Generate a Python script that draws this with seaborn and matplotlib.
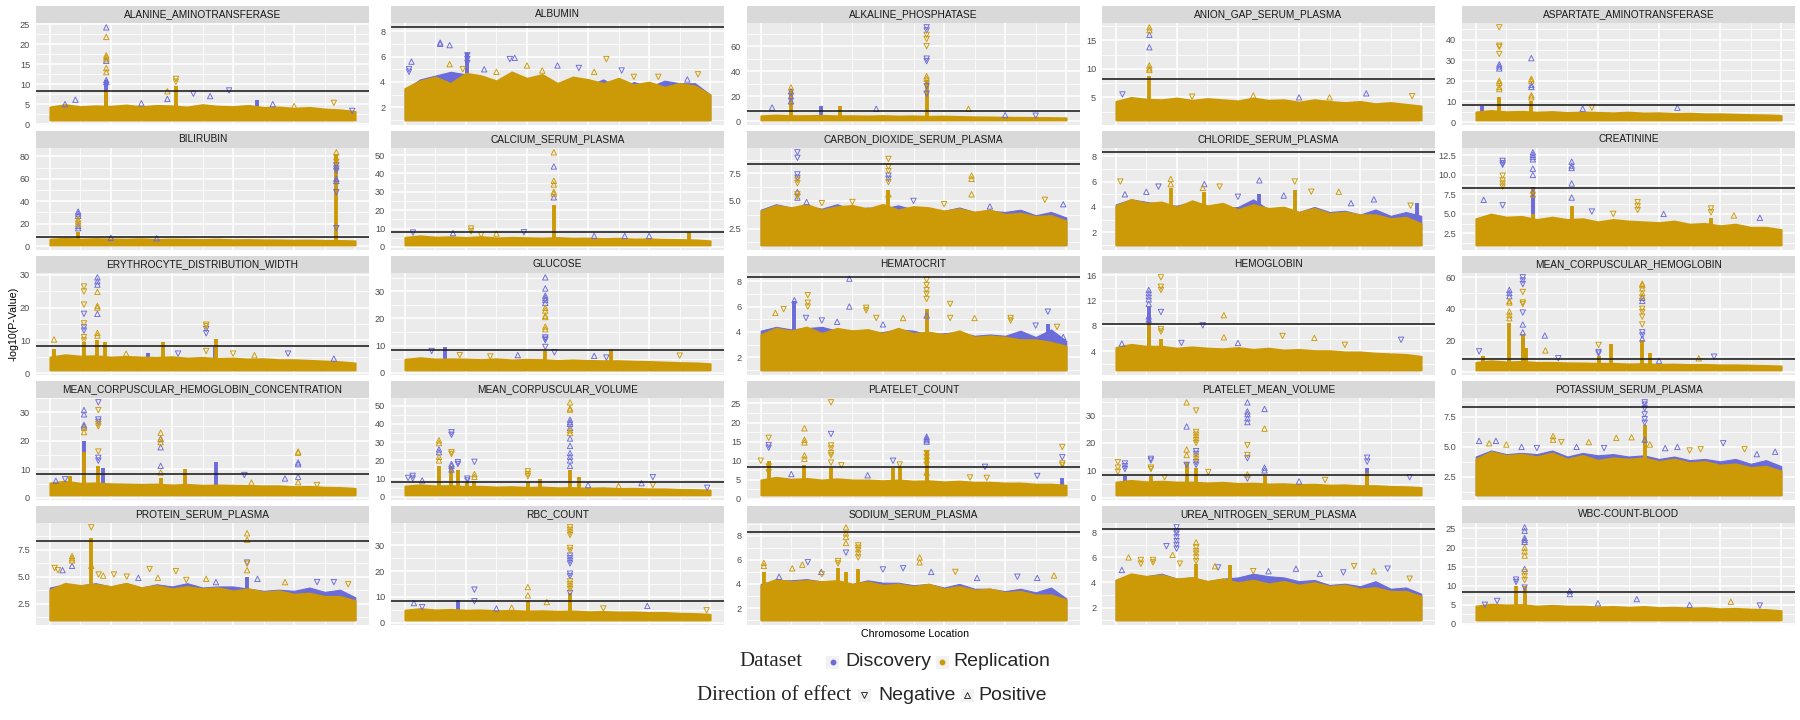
import matplotlib
matplotlib.use("Agg")
import matplotlib.pyplot as plt
from matplotlib.patches import Rectangle
import pandas as pd
import seaborn as sns

# ---------------------------------------------------------------- data
THRESHOLD = 8.3          # genome-wide line, -log10(5e-9)
BASE = 1.0               # lowest -log10(p) kept in the data
ENV_X = [0.00, 0.05, 0.10, 0.15, 0.20, 0.25, 0.30, 0.35, 0.40, 0.45, 0.50,
         0.55, 0.60, 0.65, 0.70, 0.75, 0.80, 0.85, 0.90, 0.95, 1.00]

# Each panel: ticks, ceiling of the dense background band (Replication, and
# Discovery where it shows), solid stacks (x, dataset, top) and individual
# points (x, dataset, direction, [y...])

ALT_NAME = "ALANINE_AMINOTRANSFERASE"
ALT_TICKS = [0, 5, 10, 15, 20, 25]
ALT_ENV = [4.3, 4.9, 4.4, 4.6, 4.5, 4.8, 4.4, 4.7, 4.6, 4.3, 4.9, 4.5, 4.4, 4.7, 4.2, 4.3, 4.0, 4.2, 3.8, 3.6, 3.2]
ALT_DENV = None
ALT_COLS = [(0.185, "D", 11.0), (0.185, "R", 8.5), (0.413, "R", 9.5), (0.68, "D", 6.0)]
ALT_PTS = [(0.185, "D", "P", [24.2, 15.8, 11.0, 10.5]), (0.185, "R", "P", [21.8, 17.2, 16.7, 16.2, 14.0, 13.0]),
           (0.413, "R", "N", [11.3, 10.6]), (0.385, "R", "P", [8.2]), (0.385, "D", "P", [6.3]),
           (0.587, "D", "N", [8.4]), (0.47, "D", "N", [7.6]), (0.525, "D", "P", [7.0]),
           (0.084, "D", "P", [6.1]), (0.93, "R", "N", [5.3]), (0.99, "D", "N", [3.3]),
           (0.05, "D", "P", [5.0]), (0.30, "D", "P", [5.2]), (0.73, "D", "P", [5.0]), (0.80, "R", "P", [4.5])]

ALB_NAME = "ALBUMIN"
ALB_TICKS = [2, 4, 6, 8]
ALB_ENV = [3.5, 4.1, 4.4, 3.9, 4.7, 4.5, 4.1, 4.8, 4.3, 4.6, 3.9, 4.4, 4.2, 3.9, 4.3, 3.8, 4.0, 3.6, 3.9, 3.7, 3.0]
ALB_DENV = [3.4, 4.2, 4.5, 4.8, 4.6, 4.4, 3.9, 4.6, 3.9, 4.3, 3.8, 4.1, 3.7, 4.2, 3.5, 4.0, 3.6, 4.1, 3.9, 3.9, 3.0]
ALB_COLS = [(0.205, "D", 6.3)]
ALB_PTS = [(0.116, "D", "P", [7.1, 7.0]), (0.147, "D", "P", [6.9]), (0.022, "D", "P", [5.6]), (0.014, "D", "N", [5.0, 4.8]),
           (0.147, "R", "P", [5.4]), (0.205, "D", "N", [6.1, 5.8, 5.5]), (0.19, "R", "N", [5.0]),
           (0.344, "D", "N", [5.8]), (0.36, "D", "P", [5.9]), (0.40, "R", "P", [5.3]), (0.45, "R", "P", [4.9]),
           (0.50, "D", "P", [5.3]), (0.57, "D", "N", [5.1]), (0.66, "R", "N", [5.8]), (0.62, "R", "P", [4.8]),
           (0.71, "D", "N", [4.9]), (0.83, "R", "N", [4.4]), (0.925, "D", "P", [4.2]), (0.96, "R", "N", [4.6]),
           (0.30, "R", "P", [4.8]), (0.26, "D", "P", [5.0]), (0.75, "R", "N", [4.4])]

ALP_NAME = "ALKALINE_PHOSPHATASE"
ALP_TICKS = [0, 20, 40, 60]
ALP_ENV = [4.5, 5.1, 4.6, 4.7, 4.9, 4.5, 4.6, 4.4, 4.7, 4.3, 4.5, 4.1, 4.3, 4.0, 3.7, 3.6, 3.4, 3.3, 3.2, 3.1, 2.9]
ALP_DENV = None
ALP_COLS = [(0.099, "R", 26.0), (0.198, "D", 12.2), (0.26, "R", 12.0), (0.543, "R", 33.0)]
ALP_PTS = [(0.099, "D", "P", [24.0, 20.0, 16.0]), (0.099, "R", "P", [27.0]), (0.037, "D", "P", [11.0]),
           (0.378, "D", "P", [10.0]), (0.543, "D", "N", [75.0, 72.5, 50.0, 48.0, 28.0, 22.0]),
           (0.543, "R", "N", [69.0, 65.7, 60.0]), (0.543, "R", "P", [36.0, 34.0]), (0.68, "R", "P", [10.0]),
           (0.80, "D", "P", [5.0]), (0.90, "D", "N", [4.5])]

AGAP_NAME = "ANION_GAP_SERUM_PLASMA"
AGAP_TICKS = [5, 10, 15]
AGAP_ENV = [4.3, 5.0, 4.7, 4.6, 4.9, 4.5, 4.8, 4.6, 4.4, 4.9, 4.5, 4.6, 4.2, 4.6, 4.3, 4.1, 4.3, 3.9, 4.1, 3.8, 3.5]
AGAP_DENV = None
AGAP_COLS = [(0.11, "R", 8.7)]
AGAP_PTS = [(0.11, "R", "P", [17.3, 16.8, 10.6, 10.1, 9.8]), (0.11, "D", "P", [16.0, 13.8]),
            (0.022, "D", "N", [5.5]), (0.82, "D", "P", [5.7]), (0.97, "R", "N", [5.2]), (0.25, "R", "N", [5.1]),
            (0.45, "R", "P", [5.3]), (0.60, "D", "P", [5.0]), (0.70, "R", "P", [5.0])]

AST_NAME = "ASPARTATE_AMINOTRANSFERASE"
AST_TICKS = [0, 10, 20, 30, 40]
AST_ENV = [5.0, 5.7, 5.1, 5.3, 4.9, 5.2, 4.7, 5.0, 4.8, 4.6, 4.9, 4.5, 4.6, 4.3, 4.4, 4.1, 4.1, 3.9, 3.7, 3.6, 3.3]
AST_DENV = None
AST_COLS = [(0.02, "D", 8.0), (0.077, "R", 12.0), (0.182, "R", 10.0)]
AST_PTS = [(0.077, "R", "N", [45.9, 37.0, 36.4, 33.0]), (0.077, "D", "P", [28.0, 27.0, 26.0]),
           (0.077, "R", "P", [20.0, 19.0, 17.0, 16.0]), (0.182, "D", "P", [31.0, 18.0, 17.0]),
           (0.182, "R", "P", [21.0, 20.0, 13.0, 12.0]), (0.66, "D", "P", [7.0]), (0.38, "R", "N", [7.0]),
           (0.35, "D", "P", [6.5])]

BIL_NAME = "BILIRUBIN"
BIL_TICKS = [0, 20, 40, 60, 80]
BIL_ENV = [6.4, 7.2, 6.5, 6.9, 6.6, 6.4, 6.8, 6.2, 6.5, 6.3, 6.1, 6.4, 5.9, 6.0, 5.8, 5.7, 5.5, 5.6, 5.3, 5.2, 4.9]
BIL_DENV = None
BIL_COLS = [(0.093, "R", 13.0), (0.938, "R", 82.0)]
BIL_PTS = [(0.093, "D", "P", [30.8, 29.0, 27.0, 18.0, 16.0]), (0.093, "R", "P", [24.0, 22.0, 20.0]),
           (0.938, "D", "N", [72.0, 69.0, 67.0, 48.0, 16.0]), (0.938, "D", "P", [60.0, 58.0]),
           (0.938, "R", "N", [75.0]), (0.938, "R", "P", [83.5]), (0.20, "D", "P", [7.5]), (0.35, "D", "P", [7.0])]

CA_NAME = "CALCIUM_SERUM_PLASMA"
CA_TICKS = [0, 10, 20, 30, 40, 50]
CA_ENV = [5.3, 6.1, 5.4, 5.6, 5.2, 5.7, 5.0, 5.3, 5.1, 4.9, 5.2, 4.8, 4.9, 4.6, 4.8, 4.4, 4.5, 4.2, 4.1, 3.9, 3.4]
CA_DENV = None
CA_COLS = [(0.488, "R", 23.0), (0.93, "R", 8.0)]
CA_PTS = [(0.488, "R", "P", [51.5, 36.0, 34.0, 30.0, 29.0]), (0.488, "D", "P", [43.8, 27.0]),
          (0.217, "R", "N", [10.0, 8.5]), (0.39, "D", "N", [8.0]), (0.027, "D", "N", [7.8]),
          (0.158, "D", "P", [7.5]), (0.30, "R", "P", [7.3]), (0.62, "D", "P", [6.0]), (0.72, "D", "P", [6.0]),
          (0.80, "D", "P", [6.0]), (0.25, "R", "N", [6.5])]

CO2_NAME = "CARBON_DIOXIDE_SERUM_PLASMA"
CO2_TICKS = [2.5, 5.0, 7.5]
CO2_ENV = [4.1, 4.6, 4.4, 4.7, 4.2, 4.5, 4.6, 4.3, 4.7, 4.2, 4.5, 4.4, 4.1, 4.3, 4.0, 4.2, 3.8, 3.9, 3.6, 3.7, 3.2]
CO2_DENV = [4.2, 4.7, 4.4, 4.5, 4.3, 4.7, 4.2, 4.4, 4.3, 4.6, 4.2, 4.2, 4.1, 4.4, 4.0, 4.1, 4.0, 4.2, 3.7, 4.0, 3.5]
CO2_COLS = [(0.418, "R", 6.0)]
CO2_PTS = [(0.12, "D", "N", [9.4, 8.9, 7.4, 7.1]), (0.12, "R", "N", [6.9, 6.6, 5.6, 5.4]), (0.12, "D", "P", [5.8, 5.3]),
           (0.418, "R", "N", [8.8, 8.1, 7.7, 6.7]), (0.418, "D", "N", [7.3, 7.0]), (0.418, "R", "P", [5.6]),
           (0.69, "R", "P", [7.3, 7.0, 5.6]), (0.93, "R", "N", [5.1]), (0.15, "D", "P", [4.9]),
           (0.20, "R", "N", [4.8]), (0.30, "R", "N", [4.9]), (0.50, "D", "N", [5.0]), (0.60, "R", "N", [4.7]),
           (0.75, "D", "P", [4.5]), (0.99, "D", "P", [4.7])]

CL_NAME = "CHLORIDE_SERUM_PLASMA"
CL_TICKS = [2, 4, 6, 8]
CL_ENV = [4.1, 4.6, 4.3, 4.4, 4.0, 4.5, 4.1, 4.3, 3.8, 4.2, 3.9, 4.0, 3.6, 3.9, 3.5, 3.6, 3.4, 3.4, 3.1, 3.2, 2.7]
CL_DENV = [4.2, 4.6, 4.4, 4.2, 4.1, 4.4, 4.0, 3.9, 4.0, 4.6, 3.8, 3.8, 3.6, 4.0, 3.6, 3.7, 3.4, 3.8, 3.3, 3.6, 3.3]
CL_COLS = [(0.18, "R", 5.5), (0.29, "R", 5.2), (0.47, "D", 5.0), (0.586, "R", 5.3), (0.985, "D", 4.3)]
CL_PTS = [(0.015, "R", "N", [6.0]), (0.03, "D", "P", [5.0]), (0.14, "D", "N", [5.6]), (0.18, "R", "P", [6.2, 5.8]),
          (0.29, "D", "P", [5.8]), (0.285, "R", "P", [5.5]), (0.34, "R", "N", [5.6]), (0.47, "D", "P", [6.1]),
          (0.586, "R", "N", [6.0]), (0.64, "R", "N", [5.2]), (0.73, "R", "P", [5.2]), (0.77, "D", "P", [4.3]),
          (0.845, "D", "P", [4.6]), (0.965, "R", "N", [4.1]), (0.10, "D", "P", [5.2]), (0.40, "D", "N", [4.8]),
          (0.55, "D", "P", [4.9])]

CREA_NAME = "CREATININE"
CREA_TICKS = [2.5, 5.0, 7.5, 10.0, 12.5]
CREA_ENV = [4.4, 5.0, 4.6, 4.7, 4.3, 4.6, 4.3, 4.4, 4.0, 4.3, 4.1, 4.0, 3.9, 4.1, 3.7, 3.8, 3.5, 3.7, 3.3, 3.3, 3.0]
CREA_DENV = None
CREA_COLS = [(0.187, "D", 8.5), (0.187, "R", 5.0), (0.314, "R", 6.0), (0.77, "R", 4.5)]
CREA_PTS = [(0.088, "D", "N", [11.8, 11.5, 11.3, 6.1]), (0.088, "R", "N", [9.9, 9.3, 8.9, 8.5]),
            (0.026, "D", "P", [6.8]), (0.187, "D", "P", [12.9, 12.6, 12.3, 12.0, 10.8, 10.0]),
            (0.187, "R", "P", [8.0, 7.5]), (0.314, "D", "P", [11.7, 11.2, 10.9, 8.9, 7.1]),
            (0.53, "R", "N", [6.5, 6.0, 5.5]), (0.77, "R", "N", [5.7, 5.2]), (0.845, "R", "P", [4.8]),
            (0.93, "D", "P", [4.5]), (0.615, "D", "P", [5.0]), (0.38, "D", "N", [5.3]), (0.45, "R", "N", [5.0])]

RDW_NAME = "ERYTHROCYTE_DISTRIBUTION_WIDTH"
RDW_TICKS = [0, 10, 20, 30]
RDW_ENV = [5.0, 5.7, 5.3, 5.4, 5.0, 5.2, 5.0, 4.9, 5.1, 4.7, 4.9, 4.6, 4.7, 4.4, 4.5, 4.2, 4.2, 4.0, 3.8, 3.6, 3.2]
RDW_DENV = None
RDW_COLS = [(0.014, "R", 7.5), (0.112, "R", 9.5), (0.156, "R", 10.0), (0.182, "R", 9.5), (0.32, "D", 6.3),
            (0.372, "R", 9.5), (0.54, "D", 8.0), (0.545, "R", 10.4)]
RDW_PTS = [(0.014, "R", "P", [10.3]), (0.112, "R", "N", [26.4, 24.9, 20.9, 15.2, 11.0, 10.0]),
           (0.112, "D", "N", [18.1, 14.0, 13.0]), (0.156, "D", "P", [29.2, 28.0, 27.0, 18.1]),
           (0.156, "R", "P", [24.8, 20.5, 20.0, 12.3, 11.5]), (0.512, "R", "N", [14.8, 14.3, 6.8]),
           (0.512, "D", "N", [13.5, 12.2]), (0.78, "D", "N", [6.0]), (0.93, "D", "P", [4.5]),
           (0.25, "R", "P", [6.0]), (0.60, "R", "N", [6.0]), (0.67, "R", "P", [5.5]), (0.42, "D", "N", [6.0])]

GLU_NAME = "GLUCOSE"
GLU_TICKS = [0, 10, 20, 30]
GLU_ENV = [5.0, 5.6, 5.1, 5.2, 5.1, 4.9, 5.2, 4.8, 5.0, 4.9, 4.6, 4.8, 4.6, 4.5, 4.5, 4.3, 4.2, 4.0, 3.8, 3.7, 3.4]
GLU_DENV = None
GLU_COLS = [(0.132, "D", 9.5), (0.46, "R", 8.0), (0.675, "R", 8.5)]
GLU_PTS = [(0.088, "D", "N", [8.0]), (0.46, "D", "P", [35.1, 31.0, 28.4, 27.6, 26.8, 25.7]),
           (0.46, "R", "P", [23.9, 22.9, 21.0, 20.5, 17.0, 16.0]), (0.46, "D", "N", [13.0, 12.5, 12.0, 9.5]),
           (0.49, "D", "N", [7.5]), (0.62, "D", "P", [6.2]), (0.66, "D", "N", [5.6]), (0.90, "R", "N", [6.3]),
           (0.18, "R", "N", [6.5]), (0.28, "R", "N", [6.0]), (0.37, "D", "P", [6.5])]

HCT_NAME = "HEMATOCRIT"
HCT_TICKS = [2, 4, 6, 8]
HCT_ENV = [3.8, 4.3, 4.1, 4.4, 3.9, 4.3, 4.1, 4.2, 3.9, 4.3, 3.9, 4.0, 3.8, 4.1, 3.6, 3.7, 3.6, 3.4, 3.4, 3.2, 2.9]
HCT_DENV = [4.1, 4.4, 4.2, 4.3, 4.4, 4.1, 4.1, 4.0, 4.0, 4.2, 4.1, 3.8, 3.9, 4.0, 3.7, 3.8, 3.7, 4.1, 3.6, 4.2, 3.3]
HCT_COLS = [(0.11, "D", 6.4), (0.543, "R", 5.8), (0.94, "D", 4.6)]
HCT_PTS = [(0.29, "D", "P", [8.2, 6.0]), (0.11, "D", "P", [6.5]), (0.048, "R", "P", [5.5]),
           (0.154, "R", "N", [6.9, 6.3, 6.0]), (0.075, "R", "N", [5.8]), (0.148, "D", "N", [5.1]),
           (0.345, "R", "N", [5.9, 5.7]), (0.378, "R", "N", [5.1]), (0.543, "R", "N", [8.1, 7.7, 7.3, 7.0, 6.6]),
           (0.543, "D", "P", [5.3]), (0.466, "R", "P", [5.1]), (0.62, "R", "N", [6.2, 5.1]), (0.70, "R", "P", [5.1]),
           (0.818, "R", "N", [5.1, 4.9]), (0.94, "D", "N", [5.6]), (0.97, "R", "N", [4.4]), (0.99, "D", "P", [3.6]),
           (0.20, "D", "N", [4.9]), (0.25, "D", "P", [4.8]), (0.40, "D", "P", [4.6]), (0.90, "D", "N", [4.5])]

HGB_NAME = "HEMOGLOBIN"
HGB_TICKS = [4, 8, 12, 16]
HGB_ENV = [4.6, 5.1, 4.8, 4.8, 4.5, 4.7, 4.5, 4.4, 4.6, 4.3, 4.5, 4.2, 4.3, 4.1, 4.1, 3.9, 3.9, 3.7, 3.6, 3.5, 3.2]
HGB_DENV = None
HGB_COLS = [(0.108, "D", 11.0), (0.108, "R", 8.4), (0.148, "R", 6.0)]
HGB_PTS = [(0.108, "D", "P", [13.7, 13.2, 12.7, 12.2, 11.5, 9.5, 9.0]), (0.148, "R", "N", [15.7, 14.2, 13.7, 7.5, 7.1]),
           (0.148, "D", "N", [10.2]), (0.285, "D", "N", [8.1]), (0.354, "R", "P", [9.7, 6.2]),
           (0.546, "R", "N", [6.4]), (0.65, "R", "P", [6.1]), (0.934, "D", "N", [5.8]), (0.215, "D", "N", [5.3]),
           (0.02, "D", "P", [5.2]), (0.40, "D", "P", [5.3]), (0.75, "R", "N", [5.0])]

MCH_NAME = "MEAN_CORPUSCULAR_HEMOGLOBIN"
MCH_TICKS = [0, 20, 40, 60]
MCH_ENV = [6.0, 7.0, 6.3, 6.6, 6.0, 6.0, 5.7, 5.6, 5.4, 5.4, 5.0, 5.2, 4.8, 4.9, 4.6, 4.7, 4.4, 4.4, 4.2, 4.0, 3.7]
MCH_DENV = None
MCH_COLS = [(0.024, "R", 10.0), (0.11, "R", 31.0), (0.154, "D", 20.0), (0.154, "R", 24.0), (0.165, "R", 15.0),
            (0.402, "R", 10.0), (0.444, "R", 17.7), (0.545, "R", 20.0), (0.57, "R", 12.0)]
MCH_PTS = [(0.011, "D", "N", [12.9]), (0.11, "D", "P", [52.0, 50.0, 48.0]), (0.11, "R", "P", [44.9, 44.0, 38.2, 36.0, 34.0]),
           (0.154, "D", "N", [60.0, 58.0, 55.7, 37.6]), (0.154, "R", "N", [50.7, 44.0, 43.0]),
           (0.154, "D", "P", [30.0, 25.0]), (0.226, "D", "P", [23.0]), (0.228, "R", "P", [13.5]),
           (0.27, "D", "N", [8.5]), (0.402, "R", "N", [17.0]), (0.402, "D", "N", [12.5, 11.5]),
           (0.545, "R", "P", [56.0, 55.0, 53.0, 50.0, 48.0]), (0.545, "D", "P", [47.0, 45.0, 21.0]),
           (0.545, "R", "N", [40.0, 38.0, 35.0, 30.0]), (0.545, "D", "N", [25.0, 23.0]),
           (0.78, "D", "N", [9.5]), (0.73, "R", "P", [8.5]), (0.60, "D", "P", [7.0])]

MCHC_NAME = "MEAN_CORPUSCULAR_HEMOGLOBIN_CONCENTRATION"
MCHC_TICKS = [0, 10, 20, 30]
MCHC_ENV = [5.3, 5.9, 5.2, 5.3, 5.0, 4.9, 4.8, 4.9, 4.6, 4.8, 4.5, 4.6, 4.5, 4.4, 4.3, 4.3, 4.0, 4.1, 3.8, 3.7, 3.4]
MCHC_DENV = None
MCHC_COLS = [(0.112, "D", 20.0), (0.112, "R", 16.0), (0.159, "R", 11.0), (0.175, "D", 10.5), (0.065, "R", 7.5),
             (0.363, "R", 7.0), (0.442, "R", 10.0), (0.544, "D", 12.4)]
MCHC_PTS = [(0.112, "D", "P", [30.7, 29.2, 25.5, 25.0]), (0.112, "R", "P", [24.5, 23.0]),
            (0.159, "D", "N", [33.4, 27.4, 26.6, 14.0, 13.0]), (0.159, "R", "N", [30.7, 25.8, 25.0, 16.2]),
            (0.363, "R", "P", [22.8, 20.5, 19.5, 8.9]), (0.363, "D", "P", [20.7, 17.7, 11.2]),
            (0.637, "D", "N", [8.0]), (0.66, "R", "P", [5.4]), (0.77, "D", "P", [6.8]),
            (0.813, "R", "P", [16.2, 15.8, 5.5]), (0.813, "D", "P", [12.4, 11.8, 7.4]), (0.875, "R", "N", [4.5]),
            (0.02, "D", "P", [6.0]), (0.05, "D", "N", [6.5])]

MCV_NAME = "MEAN_CORPUSCULAR_VOLUME"
MCV_TICKS = [0, 10, 20, 30, 40, 50]
MCV_ENV = [6.0, 6.7, 6.1, 6.3, 5.8, 5.9, 5.5, 5.7, 5.3, 5.5, 5.1, 5.2, 4.9, 5.1, 4.7, 4.8, 4.5, 4.5, 4.2, 4.1, 3.8]
MCV_DENV = None
MCV_COLS = [(0.112, "R", 17.0), (0.153, "R", 17.0), (0.174, "R", 15.0), (0.205, "R", 8.0), (0.228, "R", 8.5),
            (0.403, "R", 8.0), (0.442, "R", 10.0), (0.541, "R", 15.0), (0.569, "R", 11.0)]
MCV_PTS = [(0.011, "D", "N", [10.4]), (0.026, "D", "N", [11.5, 10.0]), (0.057, "D", "P", [9.0]),
           (0.112, "R", "P", [31.0, 29.5, 22.0, 20.0]), (0.112, "D", "P", [26.0, 24.5]),
           (0.153, "D", "N", [35.4, 34.0]), (0.153, "R", "N", [24.5, 23.5]), (0.153, "D", "P", [18.0, 17.0, 15.0]),
           (0.174, "D", "N", [19.0, 18.0]), (0.205, "D", "N", [10.0, 9.0]), (0.228, "D", "N", [19.2]),
           (0.228, "R", "P", [12.5, 11.0]), (0.403, "R", "N", [14.0, 12.5, 11.3]),
           (0.541, "R", "P", [51.8, 48.5, 47.8, 36.5, 35.0]),
           (0.541, "D", "P", [42.3, 41.0, 40.0, 37.8, 32.0, 28.0, 24.0, 22.0, 20.0, 17.0]),
           (0.812, "D", "N", [10.8]), (0.812, "R", "N", [6.5]), (0.775, "D", "P", [7.5]), (0.60, "D", "P", [6.5]),
           (0.70, "R", "P", [6.0]), (0.99, "D", "N", [5.0])]

PLT_NAME = "PLATELET_COUNT"
PLT_TICKS = [0, 5, 10, 15, 20, 25]
PLT_ENV = [5.0, 5.7, 5.2, 5.4, 5.0, 5.3, 5.0, 5.0, 4.8, 5.0, 4.7, 4.8, 4.5, 4.7, 4.4, 4.4, 4.2, 4.2, 3.9, 3.9, 3.6]
PLT_DENV = None
PLT_COLS = [(0.026, "R", 9.9), (0.143, "R", 9.0), (0.23, "R", 8.0), (0.433, "R", 8.0), (0.455, "R", 8.3),
            (0.543, "R", 12.9), (0.987, "D", 5.5)]
PLT_PTS = [(0.026, "R", "N", [16.0, 8.5, 7.0]), (0.026, "D", "N", [14.1, 13.4]), (0.0, "R", "N", [10.0]),
           (0.143, "R", "P", [18.5, 15.5, 14.8, 11.4, 10.5]), (0.23, "R", "N", [25.3, 14.0, 13.2, 12.0, 11.4, 9.5]),
           (0.23, "D", "N", [17.0]), (0.264, "R", "N", [8.8]), (0.433, "D", "N", [10.0]), (0.455, "R", "N", [9.0]),
           (0.543, "D", "P", [16.3, 15.8, 15.4, 15.0]), (0.543, "R", "N", [12.0, 11.0, 10.0, 9.0]),
           (0.543, "R", "P", [6.9]), (0.734, "D", "N", [8.4]), (0.685, "R", "N", [5.6]), (0.74, "R", "N", [5.5]),
           (0.905, "D", "N", [6.0]), (0.987, "R", "N", [13.6, 9.3, 8.9]), (0.987, "D", "N", [10.9]),
           (0.10, "D", "P", [6.5]), (0.35, "D", "P", [6.2])]

MPV_NAME = "PLATELET_MEAN_VOLUME"
MPV_TICKS = [0, 10, 20, 30]
MPV_ENV = [5.8, 6.4, 5.9, 6.1, 5.8, 5.8, 5.5, 5.7, 5.3, 5.4, 5.1, 5.2, 4.9, 5.0, 4.7, 4.8, 4.5, 4.5, 4.2, 4.1, 3.8]
MPV_DENV = None
MPV_COLS = [(0.03, "D", 8.0), (0.115, "R", 8.0), (0.232, "R", 13.0), (0.263, "R", 11.0), (0.487, "R", 8.0),
            (0.823, "D", 11.0), (0.823, "R", 9.0)]
MPV_PTS = [(0.007, "R", "N", [13.0, 11.0, 9.5]), (0.03, "D", "N", [12.5, 11.5, 10.5]), (0.115, "D", "N", [14.2, 13.6]),
           (0.115, "R", "N", [11.0, 10.5]), (0.16, "R", "N", [7.5]), (0.232, "R", "P", [34.8, 17.6, 15.6]),
           (0.232, "D", "P", [26.0]), (0.232, "D", "N", [12.0]),
           (0.263, "R", "N", [31.8, 24.0, 23.0, 22.0, 21.0, 20.0, 15.0, 14.0]), (0.263, "D", "N", [17.0, 16.0, 13.0, 12.0]),
           (0.303, "R", "N", [9.4]), (0.431, "D", "P", [34.8, 31.5, 30.5, 29.0, 27.6]), (0.431, "R", "N", [19.2, 15.6]),
           (0.431, "D", "N", [14.4, 7.0]), (0.431, "R", "P", [8.5]), (0.487, "D", "P", [32.4, 11.0, 10.0]),
           (0.487, "R", "P", [25.2]), (0.823, "D", "N", [14.6, 13.2]), (0.962, "D", "N", [7.5]),
           (0.685, "R", "N", [6.5]), (0.60, "D", "P", [6.0])]

K_NAME = "POTASSIUM_SERUM_PLASMA"
K_TICKS = [2.5, 5.0, 7.5]
K_ENV = [4.0, 4.6, 4.3, 4.4, 4.2, 4.5, 4.0, 4.3, 3.9, 4.1, 4.0, 4.1, 3.8, 4.0, 3.7, 3.8, 3.5, 3.6, 3.3, 3.4, 3.0]
K_DENV = [4.2, 4.7, 4.4, 4.5, 4.4, 4.7, 4.2, 4.5, 4.3, 4.4, 4.2, 4.3, 4.0, 4.2, 3.9, 4.0, 3.8, 4.0, 3.6, 3.9, 3.4]
K_COLS = [(0.553, "R", 6.8)]
K_PTS = [(0.011, "D", "P", [5.5]), (0.066, "D", "P", [5.5]), (0.044, "R", "P", [5.3]), (0.10, "R", "P", [5.2]),
         (0.253, "R", "P", [5.9, 5.6]), (0.28, "R", "N", [5.4]), (0.37, "R", "P", [5.4]), (0.46, "R", "P", [5.75]),
         (0.51, "R", "P", [5.8]), (0.553, "D", "N", [8.7, 8.5, 8.2, 7.7, 7.3, 7.0]), (0.553, "D", "P", [5.6]),
         (0.57, "R", "P", [5.2]), (0.66, "D", "P", [5.0]), (0.736, "R", "N", [4.8]), (0.81, "D", "N", [5.3]),
         (0.88, "R", "N", [4.8]), (0.98, "D", "P", [4.6]), (0.15, "D", "P", [5.0]), (0.20, "D", "N", [4.9]),
         (0.33, "D", "P", [5.0]), (0.42, "D", "N", [4.9]), (0.62, "D", "P", [4.9]), (0.70, "R", "N", [4.7]),
         (0.92, "D", "P", [4.4])]

PROT_NAME = "PROTEIN_SERUM_PLASMA"
PROT_TICKS = [2.5, 5.0, 7.5]
PROT_ENV = [3.8, 4.4, 4.2, 4.3, 4.1, 4.4, 4.0, 4.2, 3.9, 4.1, 3.9, 4.0, 3.7, 3.9, 3.6, 3.7, 3.4, 3.5, 3.2, 3.2, 2.8]
PROT_DENV = [4.0, 4.3, 4.2, 4.4, 4.1, 4.4, 4.0, 4.3, 4.1, 4.4, 4.0, 4.1, 4.1, 3.9, 3.7, 3.8, 3.7, 4.0, 3.6, 3.8, 3.1]
PROT_COLS = [(0.136, "R", 8.6), (0.646, "D", 5.0)]
PROT_PTS = [(0.016, "R", "N", [5.8]), (0.027, "R", "N", [5.6]), (0.042, "D", "P", [5.6]),
            (0.073, "R", "P", [6.9, 6.7, 6.5]), (0.073, "D", "P", [6.0]), (0.136, "R", "N", [9.55]),
            (0.136, "R", "P", [6.0]), (0.16, "R", "N", [5.2]), (0.175, "R", "P", [5.1]), (0.21, "R", "N", [5.2]),
            (0.252, "R", "N", [5.0]), (0.29, "D", "P", [4.9]), (0.327, "R", "N", [5.7]), (0.354, "R", "P", [4.9]),
            (0.413, "R", "N", [5.5]), (0.447, "R", "N", [4.7]), (0.512, "R", "P", [4.8]), (0.544, "D", "P", [4.5]),
            (0.646, "R", "P", [9.0, 8.4, 5.6]), (0.646, "R", "N", [6.2]), (0.646, "D", "N", [6.3]),
            (0.68, "D", "P", [4.8]), (0.875, "D", "N", [4.5]), (0.93, "D", "N", [4.5]), (0.977, "R", "N", [4.3]),
            (0.77, "R", "P", [4.5])]

RBC_NAME = "RBC_COUNT"
RBC_TICKS = [0, 10, 20, 30]
RBC_ENV = [4.9, 5.5, 5.0, 5.2, 4.9, 5.0, 4.7, 4.8, 4.6, 4.7, 4.5, 4.6, 4.3, 4.4, 4.2, 4.2, 4.0, 4.0, 3.7, 3.6, 3.3]
RBC_DENV = None
RBC_COLS = [(0.174, "D", 8.7), (0.403, "R", 8.5), (0.541, "R", 11.5)]
RBC_PTS = [(0.03, "D", "P", [7.6]), (0.057, "D", "N", [6.0]), (0.228, "D", "N", [12.8, 8.3]),
           (0.403, "R", "P", [13.8, 10.6]), (0.465, "R", "P", [8.0]),
           (0.541, "R", "N", [37.0, 36.0, 35.0, 34.0, 29.0, 28.0, 16.0, 15.0, 14.0, 13.0]),
           (0.541, "D", "N", [26.0, 25.0, 24.0, 23.0, 19.0, 18.0, 11.5]), (0.65, "R", "N", [5.5]),
           (0.794, "D", "P", [6.5]), (0.988, "R", "N", [4.8]), (0.30, "D", "P", [5.5]), (0.35, "R", "P", [5.8])]

NA_NAME = "SODIUM_SERUM_PLASMA"
NA_TICKS = [2, 4, 6, 8]
NA_ENV = [3.9, 4.4, 4.2, 4.3, 4.2, 4.3, 4.0, 4.2, 3.9, 4.0, 3.8, 4.0, 3.6, 3.8, 3.5, 3.6, 3.3, 3.4, 3.1, 3.1, 2.7]
NA_DENV = [4.0, 4.3, 4.3, 4.4, 4.2, 4.1, 4.0, 4.3, 4.1, 4.1, 3.9, 4.0, 3.7, 4.0, 3.6, 3.6, 3.4, 3.6, 3.3, 3.7, 2.8]
NA_COLS = [(0.01, "R", 5.0), (0.253, "R", 5.3), (0.279, "R", 5.0), (0.319, "R", 5.2)]
NA_PTS = [(0.01, "R", "P", [5.75, 5.5]), (0.136, "R", "P", [5.6]), (0.103, "R", "P", [5.3]), (0.154, "D", "N", [5.8]),
          (0.198, "D", "P", [5.0]), (0.253, "R", "N", [5.9, 5.7]), (0.279, "R", "P", [8.7, 8.2, 7.9, 7.4]),
          (0.279, "D", "N", [6.6]), (0.319, "R", "N", [7.2, 7.0, 6.8, 6.5, 6.2]), (0.40, "D", "N", [5.2]),
          (0.466, "D", "N", [5.3]), (0.52, "R", "P", [6.2, 5.8]), (0.558, "D", "P", [5.0]), (0.637, "R", "N", [5.0]),
          (0.708, "D", "P", [4.5]), (0.84, "D", "N", [4.6]), (0.905, "D", "P", [4.5]), (0.96, "R", "P", [4.7]),
          (0.06, "D", "P", [4.6]), (0.20, "R", "N", [4.8])]

BUN_NAME = "UREA_NITROGEN_SERUM_PLASMA"
BUN_TICKS = [2, 4, 6, 8]
BUN_ENV = [4.2, 4.7, 4.5, 4.6, 4.3, 4.4, 4.1, 4.3, 4.0, 4.2, 3.9, 4.1, 3.8, 4.0, 3.7, 3.8, 3.5, 3.6, 3.3, 3.3, 2.9]
BUN_DENV = [4.2, 4.5, 4.5, 4.7, 4.3, 4.4, 4.1, 4.3, 4.4, 4.7, 4.5, 4.4, 4.1, 4.2, 3.8, 3.9, 3.7, 4.1, 3.5, 3.6, 3.1]
BUN_COLS = [(0.263, "R", 5.5), (0.374, "R", 5.4)]
BUN_PTS = [(0.02, "D", "P", [5.0]), (0.042, "R", "P", [6.0]), (0.082, "R", "N", [5.8, 5.5]), (0.122, "R", "N", [5.8, 5.6]),
           (0.166, "D", "N", [6.9]), (0.186, "R", "P", [6.2]), (0.199, "D", "N", [8.4, 8.1, 7.9, 7.6, 7.3, 7.0, 6.7]),
           (0.21, "R", "N", [5.5]), (0.263, "R", "P", [7.2]), (0.263, "R", "N", [6.8, 6.5, 6.3, 6.0, 5.7]),
           (0.325, "R", "P", [5.3]), (0.335, "D", "N", [5.2]), (0.59, "D", "P", [5.1]), (0.668, "D", "P", [4.7]),
           (0.745, "D", "N", [4.8]), (0.78, "R", "N", [5.3]), (0.845, "R", "P", [4.9]), (0.89, "D", "N", [5.1]),
           (0.962, "R", "N", [4.3]), (0.50, "D", "P", [4.9]), (0.45, "R", "N", [4.9])]

WBC_NAME = "WBC-COUNT-BLOOD"
WBC_TICKS = [0, 5, 10, 15, 20, 25]
WBC_ENV = [4.7, 5.2, 5.0, 5.1, 4.7, 4.9, 4.7, 4.7, 4.5, 4.6, 4.4, 4.6, 4.3, 4.4, 4.2, 4.3, 4.0, 4.1, 3.9, 3.8, 3.5]
WBC_DENV = None
WBC_COLS = [(0.132, "R", 10.0), (0.16, "R", 10.0)]
WBC_PTS = [(0.132, "D", "N", [11.6, 11.0]), (0.16, "D", "P", [25.3, 24.4, 22.5, 22.0, 21.5, 14.4]),
           (0.16, "R", "P", [20.0, 19.0, 17.9]), (0.16, "R", "N", [13.5, 12.5, 11.5]), (0.16, "D", "N", [9.5]),
           (0.308, "D", "P", [8.6, 7.8]), (0.527, "D", "P", [6.5]), (0.835, "R", "P", [5.8]),
           (0.07, "D", "N", [6.0]), (0.03, "D", "N", [5.0]), (0.40, "D", "P", [5.4]), (0.70, "D", "P", [5.0]),
           (0.93, "D", "N", [4.8])]

PANEL_TABLE = [
    (ALT_NAME, ALT_TICKS, ALT_ENV, ALT_DENV, ALT_COLS, ALT_PTS),
    (ALB_NAME, ALB_TICKS, ALB_ENV, ALB_DENV, ALB_COLS, ALB_PTS),
    (ALP_NAME, ALP_TICKS, ALP_ENV, ALP_DENV, ALP_COLS, ALP_PTS),
    (AGAP_NAME, AGAP_TICKS, AGAP_ENV, AGAP_DENV, AGAP_COLS, AGAP_PTS),
    (AST_NAME, AST_TICKS, AST_ENV, AST_DENV, AST_COLS, AST_PTS),
    (BIL_NAME, BIL_TICKS, BIL_ENV, BIL_DENV, BIL_COLS, BIL_PTS),
    (CA_NAME, CA_TICKS, CA_ENV, CA_DENV, CA_COLS, CA_PTS),
    (CO2_NAME, CO2_TICKS, CO2_ENV, CO2_DENV, CO2_COLS, CO2_PTS),
    (CL_NAME, CL_TICKS, CL_ENV, CL_DENV, CL_COLS, CL_PTS),
    (CREA_NAME, CREA_TICKS, CREA_ENV, CREA_DENV, CREA_COLS, CREA_PTS),
    (RDW_NAME, RDW_TICKS, RDW_ENV, RDW_DENV, RDW_COLS, RDW_PTS),
    (GLU_NAME, GLU_TICKS, GLU_ENV, GLU_DENV, GLU_COLS, GLU_PTS),
    (HCT_NAME, HCT_TICKS, HCT_ENV, HCT_DENV, HCT_COLS, HCT_PTS),
    (HGB_NAME, HGB_TICKS, HGB_ENV, HGB_DENV, HGB_COLS, HGB_PTS),
    (MCH_NAME, MCH_TICKS, MCH_ENV, MCH_DENV, MCH_COLS, MCH_PTS),
    (MCHC_NAME, MCHC_TICKS, MCHC_ENV, MCHC_DENV, MCHC_COLS, MCHC_PTS),
    (MCV_NAME, MCV_TICKS, MCV_ENV, MCV_DENV, MCV_COLS, MCV_PTS),
    (PLT_NAME, PLT_TICKS, PLT_ENV, PLT_DENV, PLT_COLS, PLT_PTS),
    (MPV_NAME, MPV_TICKS, MPV_ENV, MPV_DENV, MPV_COLS, MPV_PTS),
    (K_NAME, K_TICKS, K_ENV, K_DENV, K_COLS, K_PTS),
    (PROT_NAME, PROT_TICKS, PROT_ENV, PROT_DENV, PROT_COLS, PROT_PTS),
    (RBC_NAME, RBC_TICKS, RBC_ENV, RBC_DENV, RBC_COLS, RBC_PTS),
    (NA_NAME, NA_TICKS, NA_ENV, NA_DENV, NA_COLS, NA_PTS),
    (BUN_NAME, BUN_TICKS, BUN_ENV, BUN_DENV, BUN_COLS, BUN_PTS),
    (WBC_NAME, WBC_TICKS, WBC_ENV, WBC_DENV, WBC_COLS, WBC_PTS),
]

DATASETS = ["Discovery", "Replication"]
DIRECTIONS = ["Negative", "Positive"]
DS_CODE = {"D": "Discovery", "R": "Replication"}
DIR_CODE = {"N": "Negative", "P": "Positive"}

# ---------------------------------------------------------------- style
BLUE = "#6B6BD9"
GOLD = "#CC9A06"
PALETTE = {"Discovery": BLUE, "Replication": GOLD}
MARKERS = {"Negative": "v", "Positive": "^"}

sns.set_theme(style="darkgrid", rc={
    "axes.facecolor": "#EBEBEB", "grid.color": "white", "axes.edgecolor": "none",
    "figure.facecolor": "white", "axes.linewidth": 0,
})
plt.rcParams["font.family"] = ["Liberation Sans", "DejaVu Sans"]

W, H = 1800, 720
fig = plt.figure(figsize=(18, 7.2), dpi=100)

COL_LEFT = [36, 391, 747, 1102, 1462]
PANEL_W = 333
PANEL_H = 102
ROW_TOP0 = 22.7
ROW_PITCH = 125
STRIP_H = 16.7

for i, (name, ticks, env, denv, cols, pts) in enumerate(PANEL_TABLE):
    r, c = divmod(i, 5)
    left = COL_LEFT[c]
    top = ROW_TOP0 + ROW_PITCH * r
    ax = fig.add_axes([left / W, 1 - (top + PANEL_H) / H, PANEL_W / W, PANEL_H / H])

    rows = []
    for x, ds, d, ys in pts:
        for y in ys:
            rows.append({"x": x, "y": y, "Dataset": DS_CODE[ds], "Direction": DIR_CODE[d]})
    df = pd.DataFrame(rows)
    df["order"] = df["Dataset"].map({"Discovery": 0, "Replication": 1})
    df = df.sort_values("order", kind="stable")

    hi = max([THRESHOLD] + list(df["y"]) + [t for _, _, t in cols] + list(env))
    lo = BASE
    pad = 0.05 * (hi - lo)
    ax.set_xlim(-0.045, 1.045)
    ax.set_ylim(lo - pad, hi + pad)

    # dense background band of the genome-wide scan (Discovery below Replication)
    if denv is not None:
        ax.fill_between(ENV_X, BASE, denv, color=BLUE, lw=0.8, edgecolor=BLUE, zorder=1.4)
    # Discovery stacks sit under the Replication band, Replication stacks above it
    for x, ds, t in cols:
        if ds == "D":
            ax.vlines(x, BASE, t, colors=BLUE, lw=2.8, zorder=1.45)
    ax.fill_between(ENV_X, BASE, env, color=GOLD, lw=1.2, edgecolor=GOLD, zorder=1.5)
    for x, ds, t in cols:
        if ds == "R":
            ax.vlines(x, BASE, t, colors=GOLD, lw=2.8, zorder=1.8)

    sns.scatterplot(data=df, x="x", y="y", hue="Dataset", style="Direction",
                    hue_order=DATASETS, style_order=DIRECTIONS, palette=PALETTE,
                    markers=MARKERS, s=15, linewidth=0.65, legend=False, ax=ax, zorder=3)
    coll = ax.collections[-1]
    fc = coll.get_facecolors()
    coll.set_edgecolors(fc)
    coll.set_facecolors("none")

    ax.axhline(THRESHOLD, color="#1A1A1A", lw=1.15, zorder=4)

    # grid (ggplot-like majors/minors)
    ax.set_xticks([0.0, 0.2, 0.4, 0.6, 0.8, 1.0])
    ax.set_xticks([0.1, 0.3, 0.5, 0.7, 0.9], minor=True)
    step = ticks[1] - ticks[0]
    y0, y1 = ax.get_ylim()
    minors = [t + step / 2 for t in ticks] + [ticks[0] - step / 2]
    minors = [m for m in minors if y0 <= m <= y1]
    ax.set_yticks(ticks)
    ax.set_yticks(minors, minor=True)
    ax.set_ylim(y0, y1)
    dec = any(float(t) != int(t) for t in ticks)
    ax.set_yticklabels([("%.1f" % t) if dec else ("%d" % t) for t in ticks])
    ax.set_xticklabels([])
    ax.grid(which="major", color="white", lw=1.15)
    ax.grid(which="minor", color="white", lw=0.55)
    ax.set_axisbelow(True)
    ax.tick_params(axis="x", which="both", length=0)
    ax.tick_params(axis="y", which="major", length=2.4, width=0.7, color="#333333",
                   labelsize=6.6, labelcolor="#4D4D4D", pad=1.8)
    ax.tick_params(axis="y", which="minor", length=0)
    ax.set_xlabel("")
    ax.set_ylabel("")
    for sp in ax.spines.values():
        sp.set_visible(False)

    # facet strip
    ax.add_patch(Rectangle((0, 1), 1, STRIP_H / PANEL_H, transform=ax.transAxes,
                           clip_on=False, fc="#D9D9D9", ec="none", zorder=5))
    ax.text(0.5, 1 + STRIP_H / PANEL_H / 2, name, transform=ax.transAxes, ha="center",
            va="center", fontsize=7.3, color="#1A1A1A", zorder=6)

# ---------------------------------------------------------------- overlay: titles + legend
lax = fig.add_axes([0, 0, 1, 1], zorder=10)
lax.set_xlim(0, W)
lax.set_ylim(H, 0)
lax.axis("off")
lax.patch.set_alpha(0)

panels_mid_x = (COL_LEFT[0] + COL_LEFT[-1] + PANEL_W) / 2
panels_mid_y = (ROW_TOP0 + ROW_TOP0 + ROW_PITCH * 4 + PANEL_H) / 2
lax.text(panels_mid_x, 634, "Chromosome Location", ha="center", va="center", fontsize=7.7, color="black")
lax.text(14, panels_mid_y, "-log10(P-Value)", ha="center", va="center", rotation=90, fontsize=7.7,
         color="black")

SERIF = ["Liberation Serif", "DejaVu Serif"]
KEY = 13
lax.text(739, 662, "Dataset", ha="left", va="center", fontsize=15, family=SERIF)
lax.text(697, 695, "Direction of effect", ha="left", va="center", fontsize=15, family=SERIF)

legend_keys = [
    (832.5, 662, "o", BLUE, True, "Discovery", 845),
    (942, 662, "o", GOLD, True, "Replication", 953),
    (864, 695, "v", "#333333", False, "Negative", 878),
    (967, 695, "^", "#333333", False, "Positive", 978),
]
for kx, ky, mk, colr, filled, label, tx in legend_keys:
    lax.add_patch(Rectangle((kx - KEY / 2, ky - KEY / 2), KEY, KEY, fc="#F2F2F2", ec="none"))
    if filled:
        lax.plot([kx], [ky], marker=mk, ms=3.2, color=colr, mec=colr, ls="none")
    else:
        lax.plot([kx], [ky], marker=mk, ms=4.0, mfc="none", mec=colr, mew=0.7, ls="none")
    lax.text(tx, ky, label, ha="left", va="center", fontsize=14)

fig.savefig("out.png", dpi=100)
